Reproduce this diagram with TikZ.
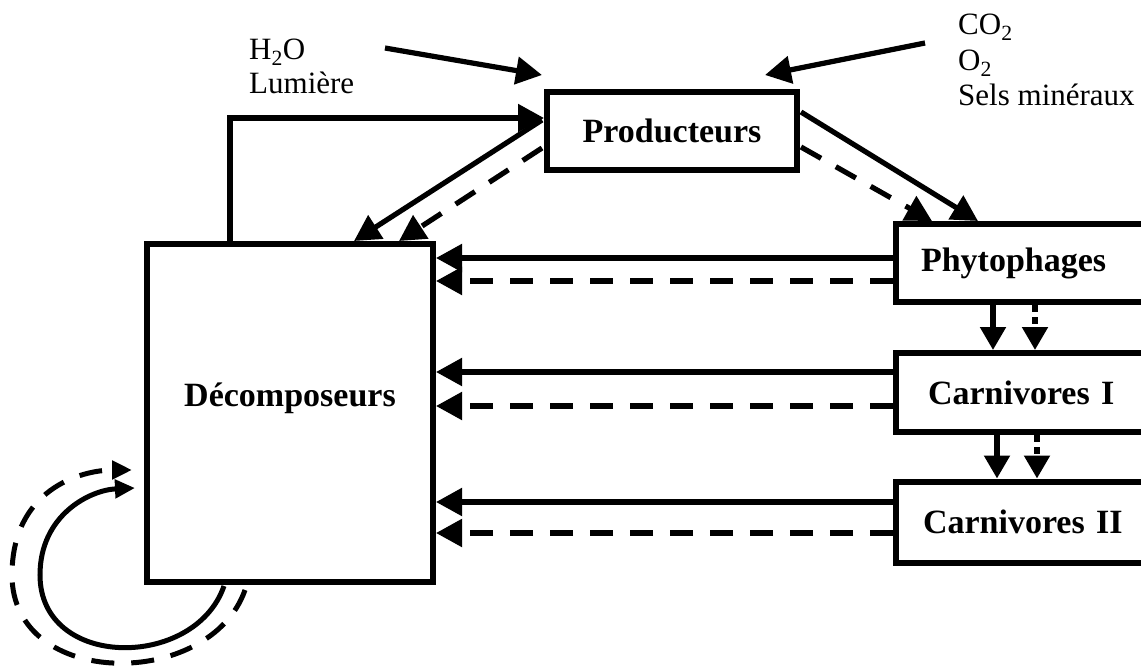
\documentclass[tikz,border=0pt]{standalone}
\usepackage{fontspec}
\setmainfont{Liberation Serif}
\usetikzlibrary{arrows.meta,calc}
\begin{document}
\begin{tikzpicture}[x=1pt,y=-1pt,
  box/.style={draw, line width=6pt, inner sep=0pt},
  lab/.style={font=\fontsize{34}{40}\selectfont\bfseries},
  txt/.style={font=\fontsize{31}{34}\selectfont, anchor=base west, inner sep=0pt},
  flow/.style={line width=5.2pt, -{Triangle[length=26pt,width=27pt]}},
  vflow/.style={line width=5.2pt, -{Triangle[length=23pt,width=25pt]}},
  loopflow/.style={line width=5pt, -{Triangle[length=20pt,width=18pt]}},
  dsh/.style={dash pattern=on 23pt off 17pt},
  dots/.style={dash pattern=on 7pt off 5pt}]
\useasboundingbox (0,0) rectangle (1141,666);
\clip (0,0) rectangle (1141,666);
\fill[white] (0,0) rectangle (1141,666);

% boxes
\node[box, minimum width=286pt, minimum height=338pt] (dec) at (290,413) {};
\node[lab] (dect) at (290,398) {Décomposeurs};
\node[box, lab, minimum width=250pt, minimum height=78pt] (prod) at (672,131) {Producteurs};
\node[box, lab, anchor=west, minimum height=78pt, text width=230pt, align=left, inner xsep=25pt] (phy) at (893,263) {Phytophages};
\node[box, lab, anchor=west, minimum height=79pt, text width=230pt, align=left, inner xsep=32pt] (c1) at (893,392.5) {Carnivores I};
\node[box, lab, anchor=west, minimum height=81pt, text width=230pt, align=left, inner xsep=27pt] (c2) at (893,522) {Carnivores II};

% texts
\node[txt] (h2o) at (249,60) {H\textsubscript{2}O};
\node[txt] (lum) at (249,94) {Lumière};
\node[txt] (co2) at (958,35) {CO\textsubscript{2}};
\node[txt] (o2) at (958,71) {O\textsubscript{2}};
\node[txt] (sels) at (958,106) {Sels minéraux};

% inputs
\coordinate (h2oS) at (385,48);
\coordinate (co2S) at (925,43);
\draw[flow] (h2oS) -- ($(prod.north west)+(-2,-14)$);
\draw[flow] (co2S) -- ($(prod.north west)+(221,-14)$);

% decomposers -> producers
\draw[flow] ($(dec.north west)+(86,0)$) |- ($(prod.west)+(0,-13)$);

% producers -> decomposers
\draw[flow] ($(prod.west)+(-2,-11)$) -- ($(dec.north west)+(210,0)$);
\draw[flow,dsh] ($(prod.west)+(-2,17)$) -- ($(dec.north west)+(255,0)$);

% producers -> phytophages
\draw[flow] ($(prod.east)+(1,-19)$) -- ($(phy.north west)+(85,0)$);
\draw[flow,dsh] ($(prod.east)+(1,16)$) -- ($(phy.north west)+(39,0)$);

% consumers -> decomposers
\draw[flow] (phy.west |- 0,258) -- (dec.east |- 0,258);
\draw[flow,dsh] (phy.west |- 0,281) -- (dec.east |- 0,281);
\draw[flow] (c1.west |- 0,372) -- (dec.east |- 0,372);
\draw[flow,dsh] (c1.west |- 0,406) -- (dec.east |- 0,406);
\draw[flow] (c2.west |- 0,502) -- (dec.east |- 0,502);
\draw[flow,dsh] (c2.west |- 0,533) -- (dec.east |- 0,533);

% trophic chain
\draw[vflow] (phy.south -| 993,0) -- (c1.north -| 993,0);
\draw[vflow,dots] (phy.south -| 1035,0) -- (c1.north -| 1035,0);
\draw[vflow] (c1.south -| 997,0) -- (c2.north -| 997,0);
\draw[vflow,dots] (c1.south -| 1037,0) -- (c2.north -| 1037,0);

% recycling loops
\draw[loopflow] ($(dec.south west)+(80,1)$) .. controls (195,670) and (40,670) .. (40,575)
  .. controls (40,515) and (90,490) .. ($(dec.west)+(-9,75)$);
\draw[loopflow,dsh] ($(dec.south west)+(101,5)$) .. controls (210,690) and (12,690) .. (12,575)
  .. controls (12,490) and (80,470) .. ($(dec.west)+(-12,57)$);
\end{tikzpicture}
\end{document}
